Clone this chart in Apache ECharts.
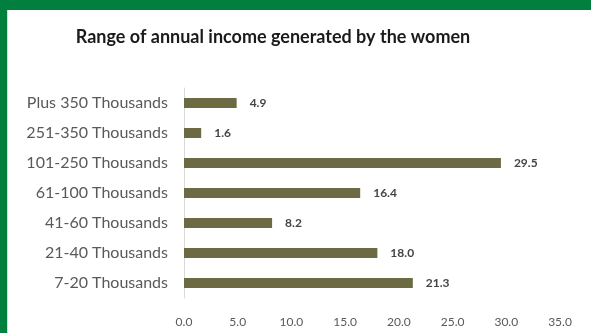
<!DOCTYPE html>
<html><head><meta charset="utf-8">
<script src="https://cdn.jsdelivr.net/npm/echarts@6/dist/echarts.min.js"></script>
<style>html,body{margin:0;padding:0;background:#fff}#c{width:591px;height:333px}</style>
</head><body><div id="c"></div>
<script>
const categories = ["Plus 350 Thousands","251-350 Thousands","101-250 Thousands","61-100 Thousands","41-60 Thousands","21-40 Thousands","7-20 Thousands"];
const values = [4.9, 1.6, 29.5, 16.4, 8.2, 18.0, 21.3];
const xTicks = { min: 0, max: 35, interval: 5 };
const titleText = "Range of annual income generated by the women";

const chart = echarts.init(document.getElementById('c'), null, {renderer:'canvas'});
chart.setOption({
  animation:false,
  backgroundColor:'#fff',
  graphic:[
    {type:'rect', shape:{x:0,y:0,width:591,height:10}, style:{fill:'#007f3e'}},
    {type:'rect', shape:{x:0,y:0,width:7,height:333}, style:{fill:'#007f3e'}},
    {type:'rect', shape:{x:7,y:10,width:1,height:323}, style:{fill:'#d8d8d8'}}
  ],
  title:{text:titleText, left:268, top:23, textAlign:'center',
    textStyle:{fontFamily:'Lato', fontWeight:'bold', fontSize:18, color:'#1a1a1a'}},
  grid:{left:184, top:88, width:376, height:210, containLabel:false},
  xAxis:{type:'value', min:xTicks.min, max:xTicks.max, interval:xTicks.interval,
    axisLine:{show:false}, axisTick:{show:false}, splitLine:{show:false},
    axisLabel:{margin:18, color:'#595959', fontFamily:'Lato', fontSize:12,
      formatter:v=>v.toFixed(1)}},
  yAxis:{type:'category', data:categories, inverse:true,
    axisLine:{show:true, lineStyle:{color:'#d9d9d9'}}, axisTick:{show:false},
    axisLabel:{margin:16, color:'#595959', fontFamily:'Lato', fontSize:16}},
  series:[{type:'bar', data:values, barWidth:10,
    itemStyle:{color:'#6b6a43'},
    label:{show:true, position:'right', distance:13, color:'#454545',
      fontFamily:'Lato', fontWeight:'bold', fontSize:12, formatter:p=>p.value.toFixed(1)}}]
});
</script></body></html>
